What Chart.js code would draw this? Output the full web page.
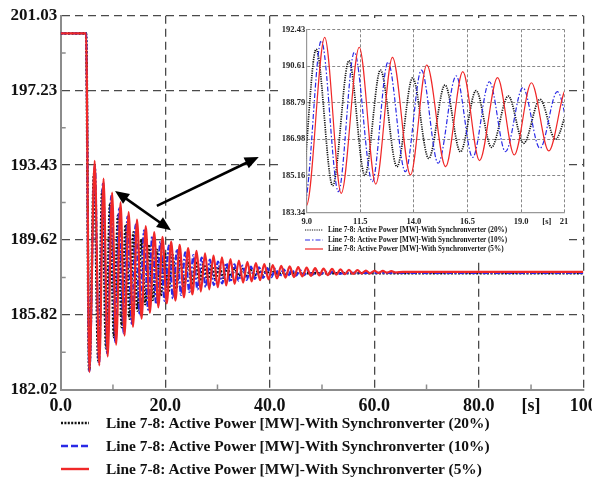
<!DOCTYPE html>
<html>
<head>
<meta charset="utf-8">
<script src="https://cdn.jsdelivr.net/npm/chart.js@4.4.1/dist/chart.umd.min.js"></script>
<style>
  html, body { margin: 0; padding: 0; background: #fff; }
  #wrap { position: relative; width: 592px; height: 481px; overflow: hidden;
          font-family: "Liberation Serif", "Times New Roman", serif; font-weight: bold; color: #111; }
  #main { position: absolute; left: 0; top: 0; }
  #insetBox { position: absolute; left: 279px; top: 18px; width: 290px; height: 242px; background: #fff; }
  #inset { position: absolute; left: 0; top: 0; }
  .lg { position: absolute; white-space: nowrap; display: flex; align-items: center; }
  .lg svg { flex: none; }
  .main-lg { font-size: 15.4px; height: 20px; line-height: 20px; }
  .inset-lg { font-size: 7.2px; height: 10px; line-height: 10px; }
</style>
</head>
<body>
<div id="wrap">
  <canvas id="main" width="592" height="481"></canvas>
  <div id="insetBox">
    <canvas id="inset" width="290" height="242"></canvas>
  </div>
  <div id="legendMain"></div>
  <div id="legendInset"></div>
</div>
<script>
// ---- series: Line 7-8 active power [MW] vs time [s] (turning points of each trace) ----
const seriesNames = [
  'Line 7-8: Active Power [MW]-With Synchronverter (20%)',
  'Line 7-8: Active Power [MW]-With Synchronverter (10%)',
  'Line 7-8: Active Power [MW]-With Synchronverter (5%)'
];

const t20 = [0, 4.85, 5.45, 6.4, 7.2, 7.95, 8.7, 9.44, 10.21, 10.97, 11.71, 12.44, 13.21, 13.94, 14.69, 15.45, 16.17,
  16.9, 17.62, 18.4, 19.12, 19.88, 20.6, 21.37, 22.1, 22.85, 23.6, 24.35, 25.1, 25.85, 26.6, 27.35, 28.1,
  28.85, 29.6, 30.35, 31.1, 31.85, 32.6, 33.35, 34.1, 34.85, 35.6, 36.35, 37.1, 37.85, 38.6, 39.35, 40.1,
  40.85, 41.6, 42.35, 43.1, 44.5, 100];
const p20 = [200.13, 200.13, 183.0, 193.0, 183.5, 192.15, 184.1, 191.44, 184.68, 190.87, 185.19, 190.41, 185.62, 190.02, 186.03, 189.67, 186.36,
  189.39, 186.58, 189.12, 186.78, 188.96, 186.98, 188.87, 187.15, 188.72, 187.29, 188.59, 187.41, 188.48, 187.50, 188.40, 187.58,
  188.32, 187.65, 188.26, 187.70, 188.21, 187.75, 188.17, 187.79, 188.14, 187.81, 188.09, 187.83, 188.06, 187.86, 188.03, 187.87,
  188.01, 187.89, 187.99, 187.90, 187.93, 187.93];

const t10 = [0, 4.85, 5.47, 6.54, 7.33, 8.11, 8.9, 9.68, 10.48, 11.22, 12.06, 12.79, 13.6, 14.35, 15.13, 15.97, 16.74,
  17.52, 18.27, 19.08, 19.88, 20.69, 21.47, 22.26, 23.04, 23.83, 24.61, 25.4, 26.18, 26.97, 27.75, 28.54, 29.32,
  30.11, 30.89, 31.68, 32.46, 33.25, 34.03, 34.82, 35.6, 36.39, 37.17, 37.96, 38.74, 39.53, 40.31, 41.1, 41.88,
  42.67, 43.45, 44.24, 45.02, 45.81, 46.59, 47.38, 48.16, 48.95, 49.73, 50.52, 51.3, 52.09, 52.87, 54.5, 100];
const p10 = [200.13, 200.13, 182.95, 193.4, 183.35, 192.55, 183.85, 191.87, 184.38, 191.29, 184.88, 190.81, 185.37, 190.41, 185.79, 190.12, 186.08,
  189.83, 186.36, 189.54, 186.53, 189.34, 186.65, 189.16, 186.83, 188.99, 186.98, 188.85, 187.11, 188.73, 187.23, 188.62, 187.33,
  188.53, 187.41, 188.45, 187.49, 188.38, 187.55, 188.32, 187.60, 188.27, 187.65, 188.23, 187.69, 188.19, 187.73, 188.16, 187.76,
  188.13, 187.79, 188.10, 187.81, 188.08, 187.83, 188.06, 187.85, 188.04, 187.87, 188.03, 187.88, 188.02, 187.89, 187.95, 187.95];

const t5 = [0, 4.85, 5.48, 6.5, 7.38, 8.2, 8.99, 9.84, 10.61, 11.45, 12.22, 13.0, 13.84, 14.6, 15.48, 16.28, 17.06,
  17.9, 18.68, 19.48, 20.29, 21.14, 21.95, 22.76, 23.57, 24.38, 25.19, 26.0, 26.81, 27.62, 28.43, 29.24, 30.05,
  30.86, 31.67, 32.48, 33.29, 34.1, 34.91, 35.72, 36.53, 37.34, 38.15, 38.96, 39.77, 40.58, 41.39, 42.2, 43.01,
  43.82, 44.63, 45.44, 46.25, 47.06, 47.87, 48.68, 49.49, 50.3, 51.11, 51.92, 52.73, 53.54, 54.35, 55.16, 55.97,
  56.78, 57.59, 58.4, 59.21, 60.02, 60.83, 61.64, 62.45, 63.26, 64.07, 65.5, 100];
const p5 = [200.13, 200.13, 182.9, 193.65, 183.25, 192.75, 183.7, 192.03, 184.3, 191.54, 184.76, 191.04, 185.21, 190.66, 185.62, 190.33, 185.92,
  190.03, 186.2, 189.78, 186.4, 189.54, 186.54, 189.37, 186.71, 189.21, 186.86, 189.07, 187.0, 188.94, 187.11, 188.83, 187.22,
  188.74, 187.31, 188.65, 187.39, 188.58, 187.46, 188.51, 187.52, 188.45, 187.58, 188.40, 187.62, 188.35, 187.67, 188.31, 187.71,
  188.28, 187.74, 188.24, 187.77, 188.22, 187.80, 188.19, 187.82, 188.17, 187.84, 188.15, 187.86, 188.13, 187.88, 188.11, 187.90,
  188.09, 187.92, 188.07, 187.93, 188.06, 187.95, 188.05, 187.96, 188.04, 187.97, 188.0, 188.0];

// ---- axes ----
const xTicksMain = [0, 20, 40, 60, 80, 90, 100];
const xLabelsMain = ['0.0', '20.0', '40.0', '60.0', '80.0', '[s]', '100'];
const xMinorMain = [10, 30, 50, 70, 90];
const yTicksMain = [182.02, 185.82, 189.62, 193.43, 197.23, 201.03];
const yMinorMain = [183.92, 187.72, 191.53, 195.33, 199.13];

const xTicksInset = [9, 11.5, 14, 16.5, 19, 20.2, 21];
const xLabelsInset = ['9.0', '11.5', '14.0', '16.5', '19.0', '[s]', '21'];
const yTicksInset = [183.34, 185.16, 186.98, 188.79, 190.61, 192.43];

// annotation arrows, in (time, MW) units: [from, to, double-headed]
const arrowLinks = [
  { from: [10.4, 192.12], to: [21.1, 190.12], both: true },
  { from: [18.4, 191.36], to: [37.9, 193.85], both: false }
];

const pts = (ts, ps) => ts.map((t, i) => ({ x: t, y: ps[i] }));

const lineStyles = [
  { color: '#111111', mainDash: [2, 1.6], insetDash: [1.2, 1.1], legendDash: [2, 1.4], mainWidth: 2.6, insetWidth: 1.7, order: 3 },
  { color: '#2a2ae6', mainDash: [6, 2, 2, 2], insetDash: [5, 2, 1.5, 2], legendDash: [7, 3], mainWidth: 2.2, insetWidth: 1.2, order: 2 },
  { color: '#f02828', mainDash: [], insetDash: [], legendDash: [], mainWidth: 2.2, insetWidth: 1.2, order: 1 }
];
const seriesData = [pts(t20, p20), pts(t10, p10), pts(t5, p5)];

function makeDatasets(kind) {
  return seriesData.map((d, i) => {
    const s = lineStyles[i];
    return {
      label: seriesNames[i],
      data: d,
      borderColor: s.color,
      backgroundColor: s.color,
      borderWidth: kind === 'main' ? s.mainWidth : s.insetWidth,
      borderDash: kind === 'main' ? s.mainDash : s.insetDash,
      pointRadius: 0,
      cubicInterpolationMode: 'monotone',
      fill: false,
      order: s.order
    };
  });
}

const serif = '"Liberation Serif", "Times New Roman", serif';

const minorTickPlugin = {
  id: 'minorTicks',
  afterDatasetsDraw(chart, args, opts) {
    if (!opts || !opts.x) return;
    const { ctx, scales: { x, y } } = chart;
    ctx.save();
    ctx.strokeStyle = opts.color;
    ctx.lineWidth = 1.5;
    ctx.beginPath();
    opts.x.forEach(v => {
      const px = x.getPixelForValue(v);
      ctx.moveTo(px, y.bottom); ctx.lineTo(px, y.bottom - opts.len);
    });
    opts.y.forEach(v => {
      const py = y.getPixelForValue(v);
      ctx.moveTo(x.left, py); ctx.lineTo(x.left + opts.len, py);
    });
    ctx.stroke();
    ctx.restore();
  }
};

const arrowPlugin = {
  id: 'arrows',
  afterDatasetsDraw(chart, args, opts) {
    if (!opts || !opts.items) return;
    const { ctx, scales: { x, y } } = chart;
    const head = (xa, ya, xb, yb) => {
      const ang = Math.atan2(yb - ya, xb - xa);
      const L = 14, W = 6;
      ctx.beginPath();
      ctx.moveTo(xb, yb);
      ctx.lineTo(xb - L * Math.cos(ang) + W * Math.sin(ang), yb - L * Math.sin(ang) - W * Math.cos(ang));
      ctx.lineTo(xb - L * Math.cos(ang) - W * Math.sin(ang), yb - L * Math.sin(ang) + W * Math.cos(ang));
      ctx.closePath();
      ctx.fill();
    };
    ctx.save();
    ctx.strokeStyle = '#000';
    ctx.fillStyle = '#000';
    ctx.lineWidth = 2.6;
    opts.items.forEach(a => {
      const x1 = x.getPixelForValue(a.from[0]), y1 = y.getPixelForValue(a.from[1]);
      const x2 = x.getPixelForValue(a.to[0]), y2 = y.getPixelForValue(a.to[1]);
      const ang = Math.atan2(y2 - y1, x2 - x1);
      const sx = a.both ? x1 + 10 * Math.cos(ang) : x1, sy = a.both ? y1 + 10 * Math.sin(ang) : y1;
      ctx.beginPath();
      ctx.moveTo(sx, sy);
      ctx.lineTo(x2 - 10 * Math.cos(ang), y2 - 10 * Math.sin(ang));
      ctx.stroke();
      head(x1, y1, x2, y2);
      if (a.both) head(x2, y2, x1, y1);
    });
    ctx.restore();
  }
};

function gridColor(hidden, col) {
  return c => (c.tick && hidden.includes(c.tick.value)) ? 'rgba(0,0,0,0)' : col;
}

// ---- main chart ----
new Chart(document.getElementById('main'), {
  type: 'line',
  data: { datasets: makeDatasets('main') },
  plugins: [minorTickPlugin, arrowPlugin],
  options: {
    responsive: false, animation: false, devicePixelRatio: 1,
    layout: { padding: { left: 0, right: 8.7, top: 15.7, bottom: 0 } },
    plugins: {
      legend: { display: false }, tooltip: { enabled: false },
      minorTicks: { x: xMinorMain, y: yMinorMain, len: 5, color: '#8c8c8c' },
      arrows: { items: arrowLinks }
    },
    scales: {
      x: {
        type: 'linear', min: 0, max: 100,
        afterBuildTicks: s => { s.ticks = xTicksMain.map(v => ({ value: v })); },
        afterFit: s => { s.height = 91.5; s.paddingLeft = 0; s.paddingRight = 0; },
        ticks: { callback: (v, i) => xLabelsMain[i], font: { family: serif, weight: 'bold', size: 18 },
                 color: '#111', padding: 6, maxRotation: 0, autoSkip: false },
        grid: { color: gridColor([0, 90], '#4a4a4a'), lineWidth: 1.3, drawTicks: false },
        border: { display: true, color: '#8c8c8c', width: 2, dash: [8, 5] }
      },
      y: {
        type: 'linear', min: 182.02, max: 201.03,
        afterBuildTicks: s => { s.ticks = yTicksMain.map(v => ({ value: v })); },
        afterFit: s => { s.width = 60.7; },
        ticks: { callback: v => v.toFixed(2), font: { family: serif, weight: 'bold', size: 17 },
                 color: '#111', padding: 3.4, autoSkip: false },
        grid: { color: gridColor([182.02], '#4a4a4a'), lineWidth: 1.3, drawTicks: false },
        border: { display: true, color: '#8c8c8c', width: 2, dash: [8, 5] }
      }
    }
  }
});

// ---- zoomed view of 9-21 s ----
new Chart(document.getElementById('inset'), {
  type: 'line',
  data: { datasets: makeDatasets('inset') },
  options: {
    responsive: false, animation: false, devicePixelRatio: 1,
    layout: { padding: { left: 0, right: 5, top: 11.3, bottom: 0 } },
    plugins: { legend: { display: false }, tooltip: { enabled: false } },
    scales: {
      x: {
        type: 'linear', min: 9, max: 21,
        afterBuildTicks: s => { s.ticks = xTicksInset.map(v => ({ value: v })); },
        afterFit: s => { s.height = 47.3; s.paddingLeft = 0; s.paddingRight = 0; },
        ticks: { callback: (v, i) => xLabelsInset[i], font: { family: serif, weight: 'bold', size: 8.5 },
                 color: '#222', padding: 4, maxRotation: 0, autoSkip: false },
        grid: { color: gridColor([9, 20.2], '#6a6a6a'), lineWidth: 0.8, drawTicks: false },
        border: { display: true, color: '#999', width: 1.2, dash: [3, 2] }
      },
      y: {
        type: 'linear', min: 183.34, max: 192.43,
        afterBuildTicks: s => { s.ticks = yTicksInset.map(v => ({ value: v })); },
        afterFit: s => { s.width = 27.7; },
        ticks: { callback: v => v.toFixed(2), font: { family: serif, weight: 'bold', size: 8.5 },
                 color: '#222', padding: 1.5, autoSkip: false },
        grid: { color: gridColor([183.34], '#6a6a6a'), lineWidth: 0.8, drawTicks: false },
        border: { display: true, color: '#999', width: 1.2, dash: [3, 2] }
      }
    }
  }
});

// ---- legends ----
function legendRows(hostId, cls, rows) {
  const host = document.getElementById(hostId);
  rows.forEach(r => {
    const s = lineStyles[r.i];
    const div = document.createElement('div');
    div.className = 'lg ' + cls;
    div.style.left = r.x + 'px';
    div.style.top = r.y + 'px';
    const w = r.sw, h = 8;
    div.innerHTML =
      `<svg width="${w}" height="${h}" style="margin-right:${r.gap}px"><line x1="0" y1="${h / 2}" x2="${w}" y2="${h / 2}" ` +
      `stroke="${s.color}" stroke-width="${r.lw}" stroke-dasharray="${(r.big ? s.legendDash : s.insetDash).join(' ') || 'none'}"/></svg>` +
      `<span></span>`;
    div.querySelector('span').textContent = seriesNames[r.i];
    host.appendChild(div);
  });
}
legendRows('legendMain', 'main-lg', [0, 1, 2].map(i => ({ i, x: 61, y: 413 + i * 22.8, sw: 28, gap: 17, lw: 2.4, big: true })));
legendRows('legendInset', 'inset-lg', [0, 1, 2].map(i => ({ i, x: 305, y: 225 + i * 9.7, sw: 18, gap: 5, lw: 1.2, big: false })));
</script>
</body>
</html>
